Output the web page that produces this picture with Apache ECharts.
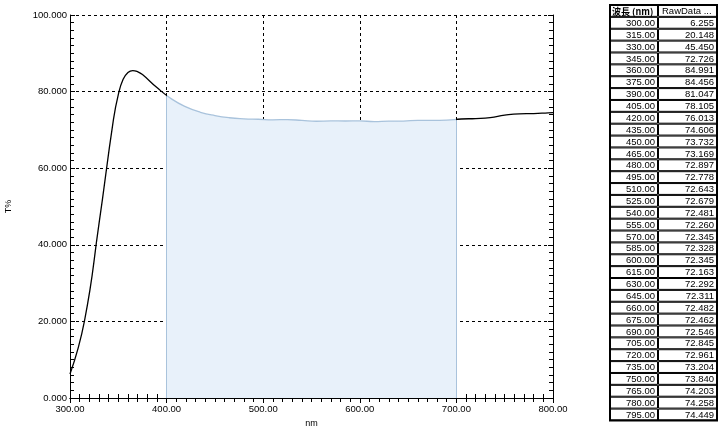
<!DOCTYPE html>
<html>
<head>
<meta charset="utf-8">
<script src="https://cdn.jsdelivr.net/npm/echarts@6/dist/echarts.min.js"></script>
<style>html,body{margin:0;padding:0;background:#fff;}#c{width:724px;height:426px;}</style>
</head>
<body>
<div id="c"></div>
<script>
// Table values (shown in the right-hand table)
var wavelengths = [300,315,330,345,360,375,390,405,420,435,450,465,480,495,510,525,540,555,570,585,600,615,630,645,660,675,690,705,720,735,750,765,780,795];
var rawData = [6.255,20.148,45.450,72.726,84.991,84.456,81.047,78.105,76.013,74.606,73.732,73.169,72.897,72.778,72.643,72.679,72.481,72.260,72.345,72.328,72.345,72.163,72.292,72.311,72.482,72.462,72.546,72.845,72.961,73.204,73.840,74.203,74.258,74.449];
// Extra curve readings taken off the plotted line (peak region and right end)
var extraWavelengths = [350, 355, 365, 370, 800];
var extraValues = [79.2, 83.2, 85.5, 85.2, 74.5];
var xTicks = [300,400,500,600,700,800];
var yTicks = [0,20,40,60,80,100];
var rangeStart = 400, rangeEnd = 700;
var headers = ['波長 (nm)', 'RawData ...'];

var seriesData = wavelengths.map(function (w, i) { return [w, rawData[i]]; })
  .concat(extraWavelengths.map(function (w, i) { return [w, extraValues[i]]; }))
  .sort(function (a, b) { return a[0] - b[0]; });

function valueAt(x) {
  for (var i = 0; i < seriesData.length - 1; i++) {
    var a = seriesData[i], b = seriesData[i + 1];
    if (x >= a[0] && x <= b[0]) {
      var t = (x - a[0]) / (b[0] - a[0]);
      return a[1] + t * (b[1] - a[1]);
    }
  }
  return seriesData[seriesData.length - 1][1];
}

var font = '"Liberation Sans", Arial, sans-serif';
var chart = echarts.init(document.getElementById('c'));

// table graphics
var tX = 610, tMid = 658, tR = 717, tTop = 5, rowH = 11.87;
var graphics = [];
function cell(x, y, w, h) {
  return { type: 'rect', shape: { x: x + 0.5, y: y + 0.5, width: w - 1, height: h - 1 }, style: { fill: '#fff', stroke: '#000', lineWidth: 1 }, silent: true };
}
graphics.push(cell(tX, tTop, tMid - tX, rowH));
graphics.push(cell(tMid, tTop, tR - tMid, rowH));
graphics.push({ type: 'text', x: tX + 2, y: tTop + rowH / 2 + 0.5, style: { text: headers[0], font: 'bold 9px "Noto Sans CJK JP", sans-serif', fill: '#000', textVerticalAlign: 'middle', textAlign: 'left' }, silent: true });
graphics.push({ type: 'text', x: tMid + 4, y: tTop + rowH / 2 + 0.5, style: { text: headers[1], font: '9.5px ' + font, fill: '#000', textVerticalAlign: 'middle', textAlign: 'left' }, silent: true });
wavelengths.forEach(function (w, i) {
  var y = tTop + (i + 1) * rowH;
  graphics.push(cell(tX, y, tMid - tX, rowH));
  graphics.push(cell(tMid, y, tR - tMid, rowH));
  graphics.push({ type: 'text', x: tMid - 3, y: y + rowH / 2 + 0.5, style: { text: w.toFixed(2), font: '9.5px ' + font, fill: '#000', textVerticalAlign: 'middle', textAlign: 'right' }, silent: true });
  graphics.push({ type: 'text', x: tR - 3, y: y + rowH / 2 + 0.5, style: { text: rawData[i].toFixed(3), font: '9.5px ' + font, fill: '#000', textVerticalAlign: 'middle', textAlign: 'right' }, silent: true });
});
// outer frame of the table
graphics.push({ type: 'rect', shape: { x: tX, y: tTop, width: tR - tX, height: (wavelengths.length + 1) * rowH }, style: { fill: 'none', stroke: '#000', lineWidth: 2 }, silent: true });

var gridLine = { show: true, lineStyle: { color: '#000', type: [3, 3], width: 1 } };
var axisLineBlack = { show: true, lineStyle: { color: '#000', width: 1 } };
var tickIn = { show: true, inside: true, length: 5, lineStyle: { color: '#000' } };
var minorIn = { show: true, splitNumber: 10, length: 4, lineStyle: { color: '#000' } };

var option = {
  animation: false,
  backgroundColor: '#fff',
  grid: { left: 70, top: 15, right: 171, bottom: 28, containLabel: false, outerBoundsMode: 'none' },
  graphic: graphics,
  visualMap: [
    { show: false, type: 'piecewise', seriesIndex: 0, dimension: 0,
      pieces: [{ lt: rangeStart, color: '#000' }, { gte: rangeStart, lte: rangeEnd, color: '#a9c3dc' }, { gt: rangeEnd, color: '#000' }] },
    { show: false, type: 'piecewise', seriesIndex: 1, dimension: 0,
      pieces: [{ lt: rangeStart, color: 'rgba(255,255,255,0)' }, { gte: rangeStart, lte: rangeEnd, color: '#e8f1fa' }, { gt: rangeEnd, color: 'rgba(255,255,255,0)' }] }
  ],
  xAxis: [
    { type: 'value', min: 300, max: 800, interval: 100, name: 'nm', nameLocation: 'middle', nameGap: 15,
      nameTextStyle: { fontFamily: font, fontSize: 9, color: '#000' },
      axisLine: axisLineBlack, axisTick: tickIn, minorTick: minorIn, splitLine: gridLine,
      axisLabel: { fontFamily: font, fontSize: 9.5, color: '#000', margin: 6, formatter: function (v) { return v.toFixed(2); } } },
    { type: 'value', position: 'top', min: 300, max: 800, interval: 100,
      axisLine: axisLineBlack, axisTick: tickIn, minorTick: minorIn, splitLine: { show: false }, axisLabel: { show: false } }
  ],
  yAxis: [
    { type: 'value', min: 0, max: 100, interval: 20, name: 'T%', nameLocation: 'middle', nameGap: 57, nameRotate: 90,
      nameTextStyle: { fontFamily: font, fontSize: 9, color: '#000' },
      axisLine: axisLineBlack, axisTick: tickIn, minorTick: minorIn, splitLine: gridLine,
      axisLabel: { fontFamily: font, fontSize: 9.5, color: '#000', margin: 3, formatter: function (v) { return v.toFixed(3); } } },
    { type: 'value', position: 'right', min: 0, max: 100, interval: 20,
      axisLine: axisLineBlack, axisTick: tickIn, minorTick: minorIn, splitLine: { show: false }, axisLabel: { show: false } }
  ],
  series: [
    { type: 'line', data: seriesData, smooth: 0.5, showSymbol: false, z: 5,
      lineStyle: { width: 1.3 } },
    { type: 'line', data: seriesData, smooth: 0.5, showSymbol: false, z: 1,
      lineStyle: { width: 0 }, areaStyle: { opacity: 1 },
      markLine: { silent: true, symbol: 'none', label: { show: false },
        lineStyle: { color: '#a9c3dc', type: 'solid', width: 1 },
        data: [
          [{ coord: [rangeStart, 0] }, { coord: [rangeStart, valueAt(rangeStart)] }],
          [{ coord: [rangeEnd, 0] }, { coord: [rangeEnd, valueAt(rangeEnd)] }]
        ] } }
  ]
};
chart.setOption(option);
</script>
</body>
</html>
